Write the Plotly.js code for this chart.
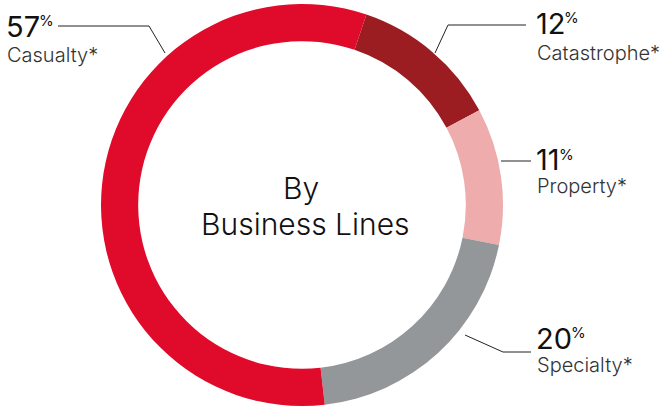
<!DOCTYPE html>
<html>
<head>
<meta charset="utf-8">
<script src="https://cdn.plot.ly/plotly-3.0.1.min.js"></script>
<style>html,body{margin:0;padding:0;background:#fff;}#chart{width:660px;height:408px;}</style>
</head>
<body>
<div id="chart"></div>
<script>
// Data
var categories = ["Catastrophe*", "Property*", "Specialty*", "Casualty*"];
var shares = [12, 11, 20, 57];
var sliceColors = ["#9B1D21", "#EEACAC", "#939799", "#E00A2A"];
var centerTitle = ["By", "Business Lines"];

var W = 660, H = 408;
function px(x) { return x / W; }
function py(y) { return 1 - y / H; }

// label placement (layout only)
var labelPos = {
  "Casualty*":    {x: 5,   numY: 26, txtY: 55},
  "Catastrophe*": {x: 535, numY: 23, txtY: 53},
  "Property*":    {x: 535, numY: 160, txtY: 186},
  "Specialty*":   {x: 535, numY: 338, txtY: 365}
};
var leaders = {
  "Casualty*":    [[165, 53], [149, 26], [58, 26]],
  "Catastrophe*": [[435, 53], [448, 25], [526, 25]],
  "Property*":    [[501, 161], [531, 161]],
  "Specialty*":   [[465, 335], [503, 352], [531, 352]]
};

var cx = 302, cy = 205, R = 201;

var trace = {
  type: "pie",
  values: shares,
  labels: categories,
  sort: false,
  direction: "clockwise",
  rotation: 18.7,
  hole: 0.815,
  textinfo: "none",
  hoverinfo: "label+percent",
  marker: {colors: sliceColors, line: {width: 0}},
  domain: {x: [px(cx - R), px(cx + R)], y: [py(cy + R), py(cy - R)]},
  showlegend: false
};

var annotations = [];
var shapes = [];
var numIdx = [], pctIdx = [];
var fontFam = "Inter, Roboto, sans-serif";
categories.forEach(function (c, i) {
  var p = labelPos[c];
  numIdx.push(annotations.length);
  annotations.push({
    xref: "paper", yref: "paper", x: px(p.x), y: py(p.numY),
    xanchor: "left", yanchor: "middle", showarrow: false, borderpad: 0,
    text: String(shares[i]),
    font: {family: fontFam, size: 29, color: "#111111"}
  });
  pctIdx.push(annotations.length);
  annotations.push({
    xref: "paper", yref: "paper", x: px(p.x + 33), y: py(p.numY - 5.5),
    xanchor: "left", yanchor: "middle", showarrow: false, borderpad: 0,
    text: "%",
    font: {family: fontFam, size: 15, color: "#111111"}
  });
  annotations.push({
    xref: "paper", yref: "paper", x: px(p.x), y: py(p.txtY),
    xanchor: "left", yanchor: "middle", showarrow: false,
    text: c,
    font: {family: fontFam, size: 20, color: "#333333", weight: 300}
  });
  var pts = leaders[c];
  for (var k = 0; k < pts.length - 1; k++) {
    shapes.push({
      type: "line", xref: "paper", yref: "paper",
      x0: px(pts[k][0]), y0: py(pts[k][1]), x1: px(pts[k + 1][0]), y1: py(pts[k + 1][1]),
      line: {color: "#222222", width: 1}
    });
  }
});
annotations.push({
  xref: "paper", yref: "paper", x: px(301), y: py(188),
  xanchor: "center", yanchor: "middle", showarrow: false,
  text: centerTitle[0], font: {family: fontFam, size: 30, color: "#111111", weight: 300}
});
annotations.push({
  xref: "paper", yref: "paper", x: px(305), y: py(224),
  xanchor: "center", yanchor: "middle", showarrow: false,
  text: centerTitle[1], font: {family: fontFam, size: 30, color: "#111111", weight: 300}
});

var layout = {
  width: W, height: H,
  margin: {l: 0, r: 0, t: 0, b: 0},
  paper_bgcolor: "#ffffff",
  plot_bgcolor: "#ffffff",
  annotations: annotations,
  shapes: shapes
};

Plotly.newPlot("chart", [trace], layout, {displayModeBar: false, staticPlot: true}).then(function (gd) {
  // place each % sign right after its number, using the drawn width of the number
  var host = gd.getBoundingClientRect();
  var upd = {};
  numIdx.forEach(function (ai, i) {
    var el = gd.querySelector('.annotation[data-index="' + ai + '"] text');
    if (!el) return;
    var r = el.getBoundingClientRect();
    upd['annotations[' + pctIdx[i] + '].x'] = px(r.right - host.left - 2);
  });
  return Plotly.relayout(gd, upd);
});
</script>
</body>
</html>
